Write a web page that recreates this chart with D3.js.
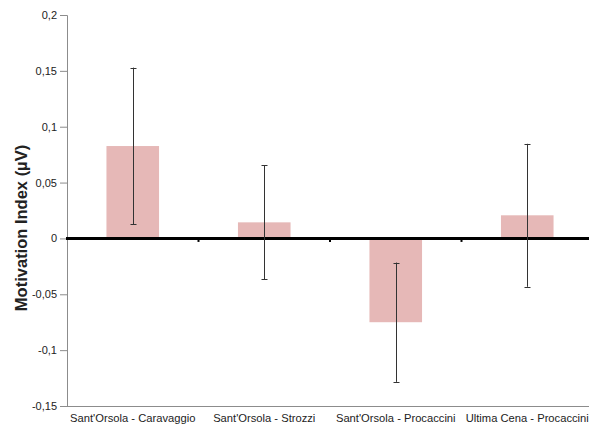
<!DOCTYPE html>
<html>
<head>
<meta charset="utf-8">
<script src="https://cdn.jsdelivr.net/npm/d3@7"></script>
<style>
  body { margin: 0; background: #fff; overflow: hidden; }
  text { font-family: "Liberation Sans", Arial, sans-serif; fill: #222; }
</style>
</head>
<body>
<svg id="chart" width="589" height="429"></svg>
<script>
// data
var categories = ["Sant'Orsola - Caravaggio", "Sant'Orsola - Strozzi", "Sant'Orsola - Procaccini", "Ultima Cena - Procaccini"];
var values = [0.0827, 0.0144, -0.0750, 0.0207];
var errors = [0.0702, 0.0510, 0.0534, 0.0640];
var yTicks = [0.2, 0.15, 0.1, 0.05, 0, -0.05, -0.1, -0.15];

function drawChart() {
    var svg = d3.select("#chart");
    var mLeft = 67, mRight = 593, mTop = 15, mBottom = 406;

    var x = d3.scaleBand()
        .domain(categories)
        .range([mLeft, mRight])
        .paddingInner(0.6)
        .paddingOuter(0.3);
    var xc = d3.scaleBand().domain(categories).range([mLeft, mRight]);

    var y = d3.scaleLinear()
        .domain([-0.15, 0.2])
        .range([mBottom, mTop]);

    var fmt = function(d) { return String(+d.toFixed(2)).replace(".", ","); };

    // y axis
    var yAxis = svg.append("g")
        .attr("transform", "translate(" + mLeft + ",0)")
        .call(d3.axisLeft(y).tickValues(yTicks).tickSize(7).tickPadding(3).tickFormat(fmt));
    yAxis.select(".domain").attr("stroke", "#8c8c8c");
    yAxis.selectAll(".tick line").attr("stroke", "#8c8c8c");
    yAxis.selectAll(".tick text")
        .attr("font-size", 11)
        .attr("font-family", "Liberation Sans, Arial, sans-serif")
        .attr("fill", "#222");

    // bottom axis line
    svg.append("line")
        .attr("x1", mLeft).attr("x2", 589)
        .attr("y1", mBottom + 0.5).attr("y2", mBottom + 0.5)
        .attr("stroke", "#8c8c8c");

    // category labels
    svg.append("g")
        .selectAll("text")
        .data(categories)
        .enter()
        .append("text")
        .attr("x", function(d) { return xc(d) + xc.bandwidth() / 2; })
        .attr("y", 422)
        .attr("text-anchor", "middle")
        .attr("font-size", 11.2)
        .text(function(d) { return d; });

    // bars
    svg.append("g")
        .selectAll("rect")
        .data(values)
        .enter()
        .append("rect")
        .attr("x", function(d, i) { return x(categories[i]); })
        .attr("width", x.bandwidth())
        .attr("y", function(d) { return y(Math.max(0, d)); })
        .attr("height", function(d) { return Math.abs(y(d) - y(0)); })
        .attr("fill", "#e6b8b7");

    // zero line with small category ticks
    svg.append("line")
        .attr("x1", mLeft - 1).attr("x2", 589)
        .attr("y1", y(0)).attr("y2", y(0))
        .attr("stroke", "#000")
        .attr("stroke-width", 3);
    svg.append("g")
        .selectAll("line")
        .data(categories.slice(1))
        .enter()
        .append("line")
        .attr("x1", function(d) { return xc(d); })
        .attr("x2", function(d) { return xc(d); })
        .attr("y1", y(0))
        .attr("y2", y(0) + 3.5)
        .attr("stroke", "#000")
        .attr("stroke-width", 2);

    // error bars
    var cx = function(d, i) { return Math.round(x(categories[i]) + x.bandwidth() / 2) + 0.5; };
    var eb = svg.append("g")
        .selectAll("g")
        .data(values)
        .enter()
        .append("g")
        .attr("stroke", "#333")
        .attr("stroke-width", 1);
    eb.append("line")
        .attr("x1", cx).attr("x2", cx)
        .attr("y1", function(d, i) { return y(d + errors[i]); })
        .attr("y2", function(d, i) { return y(d - errors[i]); });
    [1, -1].forEach(function(s) {
        eb.append("line")
            .attr("x1", function(d, i) { return cx(d, i) - 3; })
            .attr("x2", function(d, i) { return cx(d, i) + 3; })
            .attr("y1", function(d, i) { return Math.round(y(d + s * errors[i])) + 0.5; })
            .attr("y2", function(d, i) { return Math.round(y(d + s * errors[i])) + 0.5; });
    });

    // y title
    svg.append("text")
        .attr("transform", "translate(27,228) rotate(-90)")
        .attr("text-anchor", "middle")
        .attr("font-size", 16.5)
        .attr("font-weight", "bold")
        .text("Motivation Index (µV)");
}

drawChart();
</script>
</body>
</html>
